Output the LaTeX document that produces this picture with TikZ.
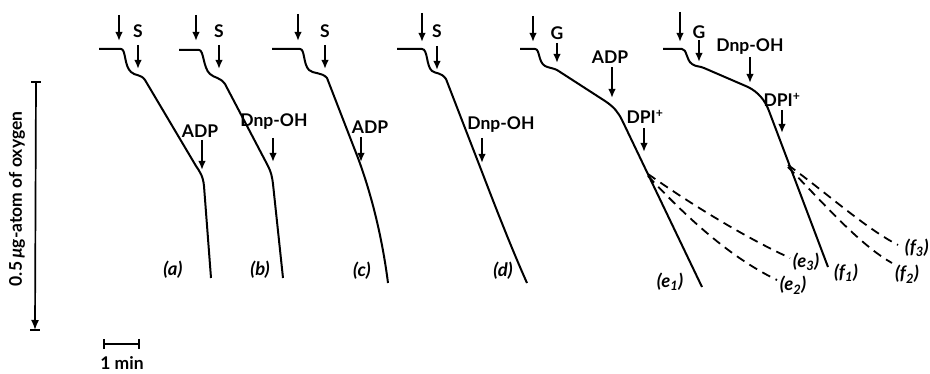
\documentclass[tikz,border=0pt]{standalone}
\usepackage{fontspec}
\setmainfont{Lato}
\usetikzlibrary{arrows.meta}
\tikzset{
  lbl/.style={font=\fontsize{17.5}{20}\selectfont\bfseries, inner sep=0pt},
  tag/.style={font=\fontsize{18.5}{20}\selectfont\bfseries\itshape, inner sep=0pt},
  curve/.style={line width=2pt, line join=round},
  dcurve/.style={line width=1.8pt, dash pattern=on 9pt off 6pt},
  arr/.style={line width=1.8pt, -{Latex[length=9pt,width=7.5pt]}},
  bar/.style={line width=1.6pt, {Bar[width=10pt]}-{Bar[width=10pt]}},
}
\begin{document}
\begin{tikzpicture}[x=1pt,y=-1pt]
\useasboundingbox (0,0) rectangle (930,374);

% ---- vertical scale
\draw[line width=1.7pt, -{Latex[length=10pt,width=8pt]}] (36,82) -- (35,330);
\draw[line width=1.7pt] (31,82) -- (41,82);
\draw[line width=1.7pt] (30,330) -- (40,330);
\node[lbl, rotate=90] (ylab) at (17,199) {0.5\,{\itshape µ}g-atom of oxygen};

% ---- time scale
\draw[bar] (103,344) -- (140,344);
\node[lbl] (tmin) at (122,363) {1 min};

% ---- (a)
\draw[curve] (99,49) -- (121,49) .. controls (126,49) and (124,66) .. (131,72)
  .. controls (135,76) and (141,74) .. (145,80) -- (196,166)
  .. controls (200,172) and (203,176) .. (204,186) -- (211,278);
\draw[arr] (119,15) -- (119,41);
\node[lbl] (aS) at (138,31) {S};
\draw[arr] (138,45) -- (138,69);
\node[lbl] (aADP) at (200,131) {ADP};
\draw[arr] (202,140) -- (202,170);
\node[tag] (atag) at (173,270) {(a)};

% ---- (b)
\draw[curve] (179,50) -- (199,50) .. controls (204,50) and (203,68) .. (210,74)
  .. controls (214,78) and (220,77) .. (225,84) -- (268,166)
  .. controls (271,172) and (272,176) .. (273,184) -- (283,278);
\draw[arr] (196,15) -- (196,41);
\node[lbl] (bS) at (219,31) {S};
\draw[arr] (219,45) -- (219,69);
\node[lbl] (bD) at (274,122) {Dnp-OH};
\draw[arr] (273,138) -- (273,162);
\node[tag] (btag) at (260,270) {(b)};

% ---- (c)
\draw[curve] (272,49) -- (300,49) .. controls (305,49) and (303,64) .. (309,70)
  .. controls (313,74) and (322,72) .. (327,78) -- (358,158)
  .. controls (368,185) and (381,228) .. (388,283);
\draw[arr] (298,14) -- (298,41);
\node[lbl] (cS) at (325,31) {S};
\draw[arr] (325,45) -- (325,69);
\node[lbl] (cADP) at (370,127) {ADP};
\draw[arr] (361,137) -- (361,162);
\node[tag] (ctag) at (362,271) {(c)};

% ---- (d)
\draw[curve] (397,49) -- (422,49) .. controls (428,49) and (426,66) .. (432,71)
  .. controls (436,74) and (441,72) .. (446,79) -- (482,172)
  .. controls (492,198) and (510,245) .. (527,283);
\draw[arr] (422,13) -- (422,42);
\node[lbl] (dS) at (437,31) {S};
\draw[arr] (437,46) -- (437,70);
\node[lbl] (dD) at (501,125) {Dnp-OH};
\draw[arr] (482,138) -- (482,163);
\node[tag] (dtag) at (503,271) {(d)};

% ---- (e)
\draw[curve] (520,49) -- (535,49) .. controls (540,49) and (538,62) .. (545,66)
  .. controls (549,68) and (553,68) .. (557,70) -- (605,101)
  .. controls (614,107) and (618,112) .. (622,120) -- (702,287);
\draw[dcurve] (648,174) .. controls (685,200) and (740,235) .. (790,258);
\draw[dcurve] (648,176) .. controls (680,210) and (725,255) .. (777,280);
\draw[arr] (533,16) -- (533,42);
\node[lbl] (eG) at (557,33) {G};
\draw[arr] (557,43) -- (557,63);
\node[lbl] (eADP) at (610,57) {ADP};
\draw[arr] (612,67) -- (612,98);
\node[lbl] (eDPI) at (645,117) {DPI\textsuperscript{+}};
\draw[arr] (644,128) -- (644,152);
\node[tag] (e1) at (670,282) {(e\textsubscript{1})};
\node[tag] (e3) at (806,262) {(e\textsubscript{3})};
\node[tag] (e2) at (793,285) {(e\textsubscript{2})};

% ---- (f)
\draw[curve] (663,49) -- (682,49) .. controls (687,49) and (686,60) .. (692,64)
  .. controls (696,67) and (700,66) .. (704,68) -- (748,87)
  .. controls (758,92) and (765,100) .. (769,111) -- (828,267);
\draw[dcurve] (788,165) .. controls (828,194) and (865,228) .. (898,245);
\draw[dcurve] (788,167) .. controls (825,205) and (860,245) .. (892,263);
\draw[arr] (680,12) -- (680,42);
\node[lbl] (fG) at (699,32) {G};
\draw[arr] (699,40) -- (699,62);
\node[lbl] (fD) at (750,47) {Dnp-OH};
\draw[arr] (750,57) -- (750,83);
\node[lbl] (fDPI) at (782,100) {DPI\textsuperscript{+}};
\draw[arr] (782,110) -- (782,133);
\node[tag] (f1) at (846,273) {(f\textsubscript{1})};
\node[tag] (f2) at (907,274) {(f\textsubscript{2})};
\node[tag, anchor=east] (f3) at (929,248) {(f\textsubscript{3})};
\end{tikzpicture}
\end{document}
